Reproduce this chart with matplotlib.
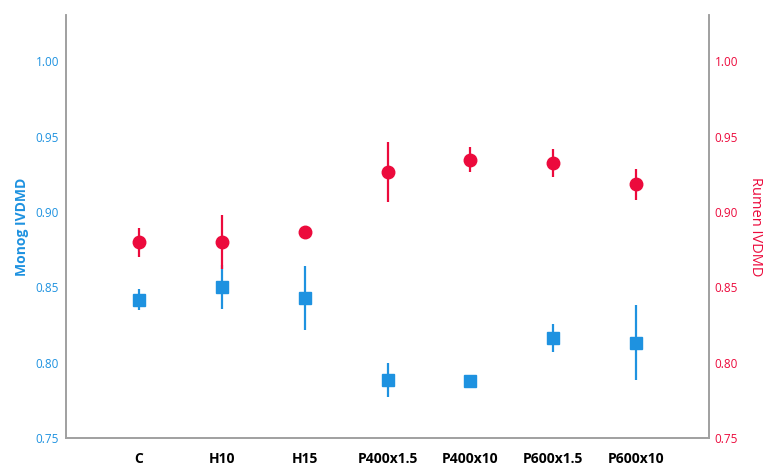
import matplotlib
matplotlib.use("Agg")
import matplotlib.pyplot as plt

# Groups
groups = ["C", "H10", "H15", "P400x1.5", "P400x10", "P600x1.5", "P600x10"]

# Monog IVDMD (mean, lower, upper)
monog = [0.8415, 0.8503, 0.8426, 0.7885, 0.7880, 0.8161, 0.8132]
monog_lo = [0.8350, 0.8355, 0.8216, 0.7774, 0.7880, 0.8068, 0.7885]
monog_hi = [0.8490, 0.8650, 0.8643, 0.8000, 0.7880, 0.8256, 0.8382]

# Rumen IVDMD (mean, lower, upper)
rumen = [0.8800, 0.8800, 0.8866, 0.9266, 0.9344, 0.9322, 0.9182]
rumen_lo = [0.8700, 0.8620, 0.8866, 0.9067, 0.9262, 0.9229, 0.9078]
rumen_hi = [0.8896, 0.8980, 0.8866, 0.9465, 0.9428, 0.9415, 0.9282]

yticks = [0.75, 0.80, 0.85, 0.90, 0.95, 1.00]

blue = "#1E92E0"
red = "#EC0A3C"
grey = "#A0A0A0"

plt.rcParams['font.family'] = ["Open Sans", "DejaVu Sans"]

fig = plt.figure(figsize=(7.77, 4.74), dpi=100)
ax = fig.add_axes([0.085, 0.076, 0.8275, 0.892])
ax2 = ax.twinx()

x = list(range(len(groups)))

# Monog series (squares)
yerr_m = [[m - lo for m, lo in zip(monog, monog_lo)],
          [hi - m for m, hi in zip(monog, monog_hi)]]
ax.errorbar(x, monog, yerr=yerr_m, fmt="s", color=blue, ecolor=blue,
            markersize=8, elinewidth=1.6, capsize=0, zorder=3)

# Rumen series (circles)
yerr_r = [[m - lo for m, lo in zip(rumen, rumen_lo)],
          [hi - m for m, hi in zip(rumen, rumen_hi)]]
ax2.errorbar(x, rumen, yerr=yerr_r, fmt="o", color=red, ecolor=red,
             markersize=9, elinewidth=1.6, capsize=0, zorder=3)

for a in (ax, ax2):
    a.set_ylim(0.75, 1.0305)
    a.set_xlim(-0.88, 6.88)
    a.set_yticks(yticks)
    a.set_yticklabels([f"{v:.2f}" for v in yticks])
    a.spines["top"].set_visible(False)
    for s in ("left", "right", "bottom"):
        a.spines[s].set_color(grey)
        a.spines[s].set_linewidth(1.2)
    a.tick_params(length=0)

ax.set_xticks(x)
ax.set_xticklabels(groups, fontweight="bold", fontsize=10)
ax.tick_params(axis="x", pad=10)
ax.tick_params(axis="y", colors=blue, labelsize=8.5, pad=5)
ax2.tick_params(axis="y", colors=red, labelsize=8.5, pad=4)

ax.set_ylabel("Monog IVDMD", color=blue, fontsize=10, fontweight="bold", labelpad=5)
ax2.set_ylabel("Rumen IVDMD", color=red, fontsize=10.5, rotation=270, labelpad=18)

fig.savefig("out.png", dpi=100)
